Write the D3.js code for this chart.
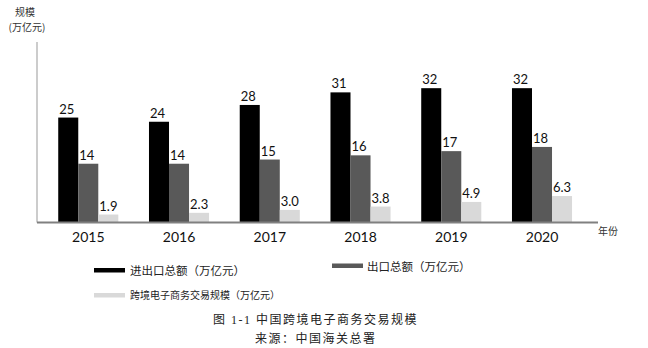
<!DOCTYPE html>
<html>
<head>
<meta charset="utf-8">
<script src="https://cdn.jsdelivr.net/npm/d3@7"></script>
<style>
  html, body { margin: 0; padding: 0; background: #fff; }
  svg { display: block; }
</style>
</head>
<body>
<svg id="chart" width="648" height="348"></svg>
<script>
// China cross-border e-commerce, 2015–2020 (万亿元)
const years = ["2015", "2016", "2017", "2018", "2019", "2020"];
const totalTrade = [25, 24, 28, 31, 32, 32];          // 进出口总额
const exportTotal = [14, 14, 15, 16, 17, 18];         // 出口总额
const crossBorder = [1.9, 2.3, 3.0, 3.8, 4.9, 6.3];   // 跨境电子商务交易规模
const seriesNames = ["进出口总额（万亿元）", "出口总额（万亿元）", "跨境电子商务交易规模（万亿元）"];
const seriesFormats = [".0f", ".0f", ".1f"];
const seriesColors = ["#000000", "#595959", "#d9d9d9"];

const series = [totalTrade, exportTotal, crossBorder].map((vals, i) => ({
  name: seriesNames[i], values: vals, fmt: d3.format(seriesFormats[i]), color: seriesColors[i]
}));

const svg = d3.select("#chart");
const plot = { left: 37, right: 598, top: 42, bottom: 222.5 };

const x0 = d3.scaleBand()
  .domain(years)
  .range([plot.left, plot.right])
  .paddingInner(0.338)
  .paddingOuter(0.26)
  .align(0.45);

const x1 = d3.scaleBand()
  .domain(d3.range(series.length))
  .range([0, x0.bandwidth()]);

const y = d3.scaleLinear().domain([0, 43]).range([plot.bottom, plot.top]);

// bars
series.forEach((s, si) => {
  const g = svg.append("g");
  g.selectAll("rect")
    .data(years.map((yr, i) => ({ yr, v: s.values[i] })))
    .join("rect")
    .attr("x", d => x0(d.yr) + x1(si))
    .attr("y", d => y(d.v))
    .attr("width", x1.bandwidth())
    .attr("height", d => y(0) - y(d.v))
    .attr("fill", s.color);

  g.selectAll("text")
    .data(years.map((yr, i) => ({ yr, v: s.values[i] })))
    .join("text")
    .attr("x", d => x0(d.yr) + x1(si) + 1)
    .attr("y", d => y(d.v) - 4)
    .attr("font-family", "Lato, 'Liberation Sans', sans-serif")
    .attr("font-size", 13)
    .attr("fill", "#111")
    .text(d => s.fmt(d.v));
});

// axes
svg.append("line")
  .attr("x1", plot.left).attr("x2", plot.left)
  .attr("y1", plot.top).attr("y2", plot.bottom)
  .attr("stroke", "#999").attr("stroke-width", 1);

const xAxis = svg.append("g")
  .attr("transform", `translate(0,${plot.bottom})`)
  .call(d3.axisBottom(x0).tickSize(0).tickPadding(10));
xAxis.select(".domain").remove();
xAxis.selectAll("text")
  .attr("font-family", "Lato, 'Liberation Sans', sans-serif")
  .attr("font-size", 14)
  .attr("fill", "#111");

svg.append("line")
  .attr("x1", plot.left).attr("x2", plot.right)
  .attr("y1", plot.bottom).attr("y2", plot.bottom)
  .attr("stroke", "#808080").attr("stroke-width", 2);

const cjk = "'Noto Sans CJK SC', sans-serif";

// axis titles
svg.append("text")
  .attr("x", 25).attr("y", 16)
  .attr("text-anchor", "middle")
  .attr("font-family", cjk).attr("font-size", 10).attr("fill", "#333")
  .text("规模");
svg.append("text")
  .attr("x", 27).attr("y", 31)
  .attr("text-anchor", "middle")
  .attr("font-family", cjk).attr("font-size", 10).attr("fill", "#333")
  .text("(万亿元)");
svg.append("text")
  .attr("x", 598).attr("y", 235)
  .attr("font-family", cjk).attr("font-size", 10).attr("fill", "#333")
  .text("年份");

// legend
const legendItems = [
  { x: 94, y: 268, tx: 130, ty: 274.5, fs: 11.5 },
  { x: 332, y: 263.5, tx: 367, ty: 270.5, fs: 11.5 },
  { x: 94, y: 293, tx: 130, ty: 299, fs: 10 }
];
legendItems.forEach((p, i) => {
  svg.append("rect")
    .attr("x", p.x).attr("y", p.y)
    .attr("width", 31).attr("height", 4.5)
    .attr("fill", series[i].color);
  svg.append("text")
    .attr("x", p.tx).attr("y", p.ty)
    .attr("font-family", cjk).attr("font-size", p.fs).attr("fill", "#222")
    .text(series[i].name);
});

// figure caption
svg.append("text")
  .attr("x", 213).attr("y", 324)
  .attr("font-family", "'Liberation Serif', " + cjk)
  .attr("font-size", 12).attr("fill", "#222")
  .attr("letter-spacing", 1.5)
  .text("图 1-1  中国跨境电子商务交易规模");
svg.append("text")
  .attr("x", 255).attr("y", 343)
  .attr("font-family", "'Liberation Serif', " + cjk)
  .attr("font-size", 12).attr("fill", "#222")
  .attr("letter-spacing", 1.5)
  .text("来源：中国海关总署");
</script>
</body>
</html>
